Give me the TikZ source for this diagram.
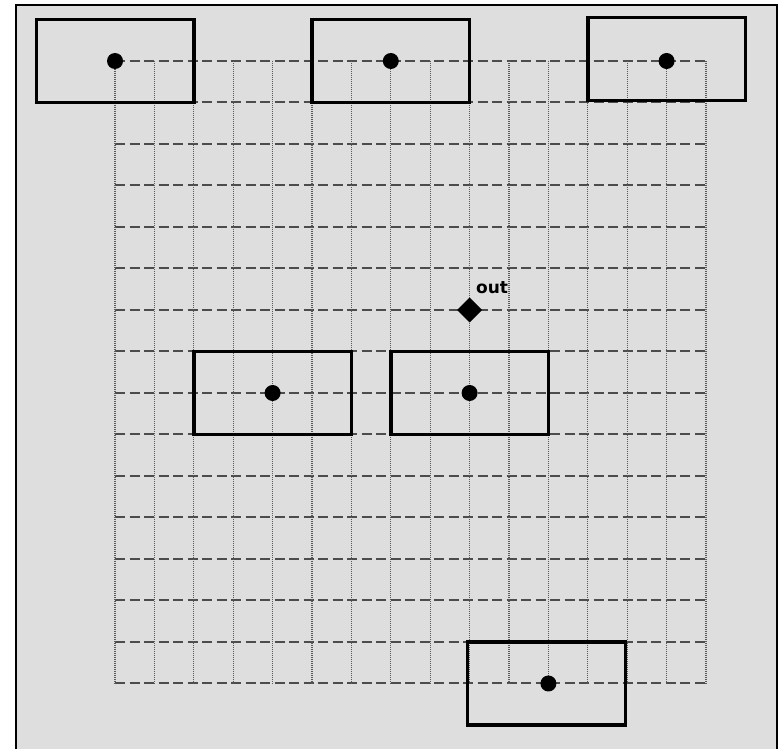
\documentclass[tikz,border=0pt]{standalone}
\usepackage{fontspec}
\setmainfont{DejaVu Sans}
\usetikzlibrary{positioning, shapes.geometric}

\begin{document}
\begin{tikzpicture}[
    x=39.4pt, y=-41.5pt,
    sheet/.style={fill=black!13, draw=none},
    rowline/.style={draw=black!70, line width=2pt, dash pattern=on 10pt off 4.5pt},
    colline/.style={draw=black!65, line width=1.3pt, dash pattern=on 1pt off 1pt},
    block/.style={draw, line width=3.4pt, minimum width=157.6pt, minimum height=83pt, inner sep=0pt},
    pin/.style={circle, fill, inner sep=0pt, minimum size=16pt},
    port/.style={diamond, fill, inner sep=0pt, minimum size=25pt},
    tag/.style={font=\fontsize{17}{17}\selectfont\bfseries, inner sep=0pt}
]
\useasboundingbox (-2.919,-1.470) rectangle (16.980,16.578);
\fill[sheet] (-2.513,-1.349) rectangle (16.802,16.578);
\draw[line width=2pt] (-2.513,16.578) -- (-2.513,-1.349) -- (16.802,-1.349) -- (16.802,16.578);

% grid
\foreach \j in {0,...,15}
    \draw[rowline] (0,\j) -- (15,\j);
\foreach \i in {0,...,15}
    \draw[colline] (\i,0) -- (\i,15);

% blocks
\node[block] (topleft) at (0,0) {};
\node[block] (topmid) at (7,0) {};
\node[block] (topright) at (14,-0.05) {};
\node[block] (midleft) at (4,8) {};
\node[block] (midright) at (9,8) {};
\node[block] (bottom) at (10.95,15) {};

\node[pin] at (topleft) {};
\node[pin] at (topmid) {};
\node[pin] at (14,0) {};
\node[pin] at (midleft) {};
\node[pin] at (midright) {};
\node[pin] at (11,15) {};

\node[port] (out) at (9,6) {};
\node[tag, above right=10pt and 0pt of out] (outlbl) {out};
\end{tikzpicture}
\end{document}
